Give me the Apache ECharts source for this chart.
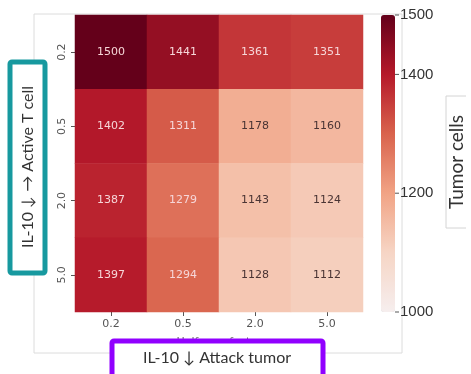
<!DOCTYPE html>
<html>
<head>
<meta charset="utf-8">
<script src="https://cdn.jsdelivr.net/npm/echarts@6/dist/echarts.min.js"></script>
<style>
  html, body { margin: 0; padding: 0; background: #ffffff; }
  #chart { width: 471px; height: 374px; }
</style>
</head>
<body>
<div id="chart"></div>
<script>
// Half max factors on both axes
const xFactors = ['0.2', '0.5', '2.0', '5.0'];
const yFactors = ['0.2', '0.5', '2.0', '5.0'];

// Tumor cell counts, one row per y factor (top to bottom)
const row02 = [1500, 1441, 1361, 1351];
const row05 = [1402, 1311, 1178, 1160];
const row20 = [1387, 1279, 1143, 1124];
const row50 = [1397, 1294, 1128, 1112];

// Colour bar range and the ticks it labels
const colorMin = 1000;
const colorMax = 1500;
const colorTicks = [1000, 1200, 1400, 1500];

// Reds-like ramp, low to high
const ramp = ['#f6eeee', '#f6d5c5', '#f1a385', '#d9634d', '#b5192a', '#64001a'];

const rows = [row02, row05, row20, row50];
const cells = [];
rows.forEach(function (row, yi) {
  row.forEach(function (v, xi) {
    cells.push({
      value: [xi, yi, v],
      label: { color: v > 1250 ? '#f6d6d8' : '#4a3434' }
    });
  });
});

const chart = echarts.init(document.getElementById('chart'), null, { renderer: 'canvas' });

const tickFont = 'DejaVu Sans, sans-serif';
const boxFont = 'Lato, "Open Sans", sans-serif';

chart.setOption({
  animation: false,
  backgroundColor: '#ffffff',
  grid: [
    { left: 75, top: 15, width: 288, height: 297, containLabel: false },
    { left: 381, top: 15, width: 14, height: 297, containLabel: false, show: false }
  ],
  xAxis: [
    {
      type: 'category', gridIndex: 0, data: xFactors, position: 'bottom',
      axisLine: { show: false },
      axisTick: { show: true, alignWithLabel: true, length: 4, lineStyle: { color: '#555' } },
      axisLabel: { color: '#555', fontSize: 11, fontFamily: tickFont, margin: 7 },
      splitArea: { show: false },
      name: 'Half max factor', nameLocation: 'middle', nameGap: 25,
      nameTextStyle: { color: '#666', fontSize: 11, fontFamily: tickFont }
    },
    {
      type: 'value', gridIndex: 1, show: false, min: 0, max: 1
    }
  ],
  yAxis: [
    {
      type: 'category', gridIndex: 0, data: yFactors, inverse: true,
      axisLine: { show: false },
      axisTick: { show: true, alignWithLabel: true, length: 4, lineStyle: { color: '#555' } },
      axisLabel: { color: '#555', fontSize: 11, fontFamily: tickFont, rotate: 90, margin: 7 },
      name: 'Half max factor', nameLocation: 'middle', nameGap: 18, nameRotate: 90,
      nameTextStyle: { color: '#666', fontSize: 11, fontFamily: tickFont }
    },
    {
      // colour bar scale: a short dash before each value stands in for the tick
      type: 'value', gridIndex: 1, position: 'right', min: colorMin, max: colorMax,
      axisLine: { show: false },
      splitLine: { show: false },
      axisTick: { show: false },
      axisLabel: {
        margin: 0,
        customValues: colorTicks,
        formatter: function (v) { return '{tk|}{v|' + v + '}'; },
        rich: {
          tk: { width: 4, height: 1, backgroundColor: '#555', verticalAlign: 'middle' },
          v: { color: '#333', fontSize: 15, fontFamily: 'Liberation Sans, Arial, sans-serif', padding: [0, 0, 0, 1] }
        }
      }
    }
  ],
  visualMap: {
    type: 'continuous', min: colorMin, max: colorMax, seriesIndex: 0,
    orient: 'vertical', left: 381, top: 15, itemWidth: 14, itemHeight: 297,
    padding: 0, calculable: false, realtime: false, hoverLink: false,
    text: null, showLabel: false,
    inRange: { color: ramp }
  },
  series: [
    {
      type: 'heatmap', xAxisIndex: 0, yAxisIndex: 0, data: cells,
      label: { show: true, fontSize: 11, fontFamily: tickFont },
      itemStyle: { borderWidth: 0 }
    },
    {
      type: 'line', xAxisIndex: 1, yAxisIndex: 1, data: [], silent: true
    }
  ],
  graphic: [
    // figure frame
    { type: 'rect', shape: { x: 34, y: 14, width: 368, height: 339 },
      style: { fill: 'none', stroke: '#dcdcdc', lineWidth: 1 }, z: -1, silent: true },
    // colour bar title bracket
    { type: 'polyline', shape: { points: [[466, 96], [446, 96], [446, 228], [466, 228]] },
      style: { fill: 'none', stroke: '#d4d4d4', lineWidth: 1 }, silent: true },
    { type: 'text', x: 457, y: 162, rotation: Math.PI / 2,
      style: { text: 'Tumor cells', fill: '#333', font: '19px ' + boxFont, align: 'center', verticalAlign: 'middle' } },
    // left callout
    { type: 'rect', shape: { x: 10, y: 62, width: 35, height: 211, r: 2 },
      style: { fill: '#ffffff', stroke: '#17999f', lineWidth: 5 }, z: 10, silent: true },
    { type: 'text', x: 28, y: 167, rotation: Math.PI / 2, z: 11,
      style: { text: 'IL-10 \u2193 \u2192 Active T cell', fill: '#333', font: '16px ' + boxFont, align: 'center', verticalAlign: 'middle' } },
    // bottom callout
    { type: 'rect', shape: { x: 112, y: 341, width: 211, height: 45, r: 2 },
      style: { fill: '#ffffff', stroke: '#9100ff', lineWidth: 5 }, z: 10, silent: true },
    { type: 'text', x: 217, y: 358, z: 11,
      style: { text: 'IL-10 \u2193 Attack tumor', fill: '#333', font: '16px ' + boxFont, align: 'center', verticalAlign: 'middle' } }
  ]
});
</script>
</body>
</html>
